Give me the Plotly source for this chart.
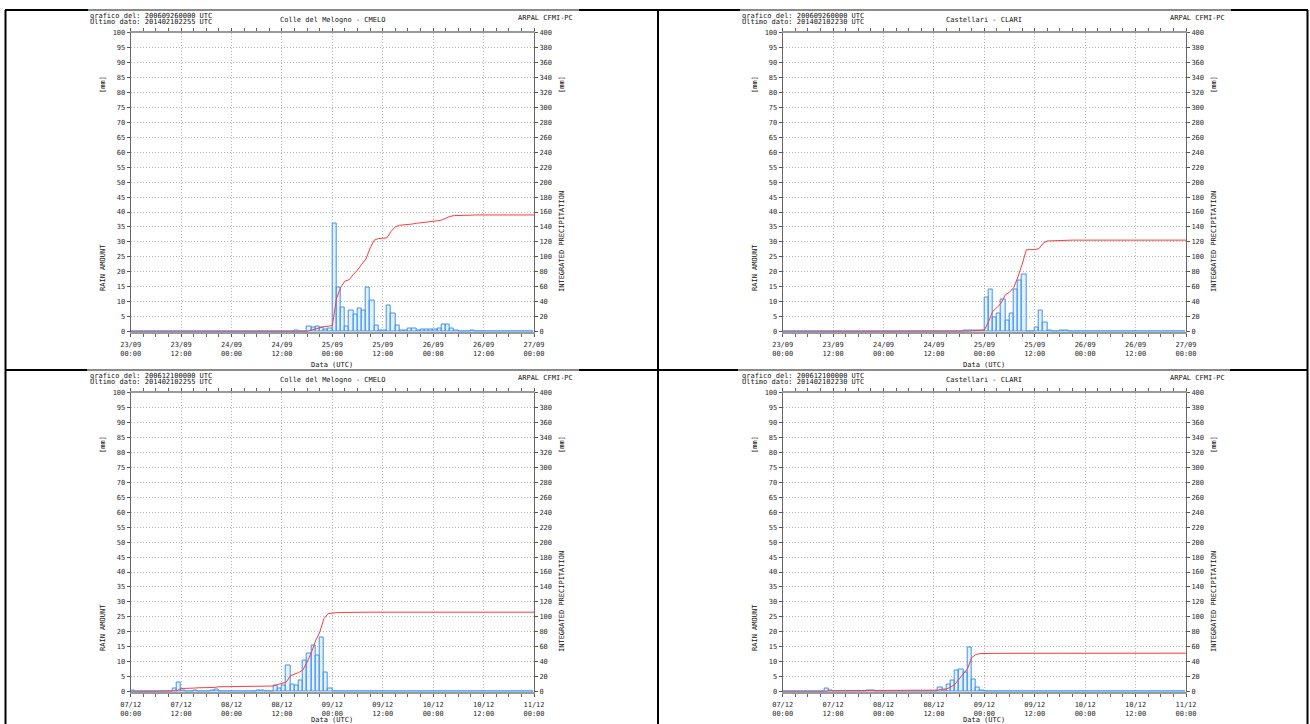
import plotly.graph_objects as go
import pandas as pd
import numpy as np

W, H = 1310, 724

# ---------------- data (hourly rain, mm) ----------------
sep_start = "2006-09-23 00:00"
dec_start = "2006-12-07 00:00"
n_hours = 96

cmelo_sep_hours = [39, 42, 43, 44, 45, 46, 47, 48, 49, 50, 51, 52, 53, 54, 55, 56, 57, 58, 59, 60,
                   61, 62, 63, 64, 65, 66, 67, 68, 69, 70, 71, 72, 73, 74, 75, 76, 77, 78, 81]
cmelo_sep_mm = [0.3, 1.9, 1.5, 1.7, 1.3, 0.6, 1.0, 36.3, 14.8, 8.2, 1.9, 7.0, 5.9, 7.8, 7.0, 14.8, 10.5, 2.0, 0.5, 0.5,
                8.8, 6.0, 2.0, 0.3, 0.3, 1.0, 1.0, 0.5, 0.8, 0.7, 0.7, 0.7, 1.0, 2.5, 2.3, 1.1, 0.4, 0.2, 0.3]

clari_sep_hours = [42, 43, 44, 45, 46, 47, 48, 49, 50, 51, 52, 53, 54, 55, 56, 57, 58, 60, 61, 62, 63, 66, 67]
clari_sep_mm = [0.2, 0.5, 0.4, 0.3, 0.3, 0.3, 11.4, 14.0, 4.8, 6.2, 10.9, 3.6, 6.2, 14.2, 17.0, 19.2, 0.2,
                1.4, 7.2, 3.0, 0.3, 0.4, 0.4]

cmelo_dec_hours = [0, 10, 11, 12, 15, 19, 20, 22, 30, 31, 34, 35, 36, 37, 38, 39, 40, 41, 42, 43, 44, 45,
                   46, 47, 48, 49, 50, 54]
cmelo_dec_mm = [0.3, 1.0, 3.0, 0.5, 0.4, 0.5, 0.9, 0.2, 0.4, 0.4, 2.0, 1.0, 2.0, 8.7, 2.3, 2.0, 3.7, 10.3,
                12.7, 15.5, 12.0, 18.0, 6.5, 1.2, 0.2, 0.2, 0.2, 0.2]

clari_dec_hours = [10, 11, 20, 21, 37, 38, 39, 40, 41, 42, 43, 44, 45, 46, 47, 95]
clari_dec_mm = [1.2, 0.3, 0.3, 0.3, 1.3, 0.3, 2.5, 3.7, 7.0, 7.5, 6.5, 14.8, 4.0, 1.3, 0.3, 0.2]

left_ticks = list(range(0, 101, 5))
right_ticks = list(range(0, 401, 20))

panels = [
    dict(start=sep_start, hours=cmelo_sep_hours, mm=cmelo_sep_mm, title="Colle del Melogno - CMELO",
         graf="grafico del: 200609260000 UTC", ult="Ultimo dato: 201402102255 UTC", dx=0, dy=0),
    dict(start=sep_start, hours=clari_sep_hours, mm=clari_sep_mm, title="Castellari - CLARI",
         graf="grafico del: 200609260000 UTC", ult="Ultimo dato: 201402102230 UTC", dx=652, dy=0),
    dict(start=dec_start, hours=cmelo_dec_hours, mm=cmelo_dec_mm, title="Colle del Melogno - CMELO",
         graf="grafico del: 200612100000 UTC", ult="Ultimo dato: 201402102255 UTC", dx=0, dy=360),
    dict(start=dec_start, hours=clari_dec_hours, mm=clari_dec_mm, title="Castellari - CLARI",
         graf="grafico del: 200612100000 UTC", ult="Ultimo dato: 201402102230 UTC", dx=652, dy=360),
]

# ---------------- figure ----------------
FONT = "DejaVu Sans Mono"
HOUR_MS = 3600 * 1000
PX0, PX1 = 130.7, 534.0      # plot x extent (pixels) of left panel
PY0, PY1 = 32.5, 331.7       # plot y extent (pixels) of top panel
GRID = dict(showgrid=True, gridcolor="#b4b4b4", griddash="1px,2px", gridwidth=1)


def px(x):
    return x / W


def py(y):
    return 1 - y / H


def nm(prefix, n):
    return prefix if n == 1 else f"{prefix}{n}"


fig = go.Figure()
annotations = []
shapes = []
layout = {}

for i, p in enumerate(panels, start=1):
    t0 = pd.Timestamp(p["start"])
    rain = np.zeros(n_hours)
    rain[p["hours"]] = p["mm"]
    hour_idx = np.arange(n_hours)
    bar_x = t0 + pd.to_timedelta(hour_idx + 0.5, unit="h")
    line_x = t0 + pd.to_timedelta(np.arange(n_hours + 1), unit="h")
    line_y = np.concatenate([[0.0], np.cumsum(rain)])

    xa, ya, ya2 = nm("x", i), nm("y", 2 * i - 1), nm("y", 2 * i)

    fig.add_trace(go.Bar(x=bar_x, y=rain, width=[HOUR_MS] * n_hours, xaxis=xa, yaxis=ya,
                         marker=dict(color="rgba(195,224,255,0.45)",
                                     line=dict(color="#3f93ee", width=1)),
                         showlegend=False, hoverinfo="x+y"))
    fig.add_trace(go.Scatter(x=line_x, y=line_y, mode="lines", xaxis=xa, yaxis=ya2,
                             line=dict(color="#ff3b3b", width=1), showlegend=False))

    dx, dy = p["dx"], p["dy"]
    xdom = [px(PX0 + dx), px(PX1 + dx)]
    ydom = [py(PY1 + dy), py(PY0 + dy)]
    t1 = t0 + pd.Timedelta(hours=n_hours)
    tickfont = dict(family=FONT, size=7, color="#2a2a2a")

    layout[nm("xaxis", i)] = dict(
        domain=xdom, anchor=ya, type="date", range=[t0, t1],
        tick0=t0, dtick=12 * HOUR_MS, tickformat="%d/%m<br>%H:%M",
        ticks="outside", ticklen=3, tickcolor="#555", tickfont=tickfont, **GRID,
        showline=True, linecolor="#9a9a9a", linewidth=2, mirror="allticks",
        minor=dict(dtick=3 * HOUR_MS, ticks="outside", ticklen=2, tickcolor="#666", showgrid=False),
        zeroline=False, fixedrange=True, ticklabelstandoff=2, automargin=False,
    )
    layout[nm("yaxis", 2 * i - 1)] = dict(
        domain=ydom, anchor=xa, range=[0, 100], tickvals=left_ticks,
        ticks="outside", ticklen=3, tickcolor="#555", tickfont=tickfont, **GRID,
        showline=True, linecolor="#666", linewidth=1, zeroline=False, fixedrange=True,
        automargin=False,
    )
    layout[nm("yaxis", 2 * i)] = dict(
        domain=ydom, anchor=xa, overlaying=ya, side="right", range=[0, 400], tickvals=right_ticks,
        ticks="outside", ticklen=3, tickcolor="#555", tickfont=tickfont,
        showgrid=False, showline=True, linecolor="#666", linewidth=1, zeroline=False, fixedrange=True,
        automargin=False,
    )

    af = dict(family=FONT, size=7, color="#111")
    common = dict(xref="paper", yref="paper", showarrow=False, font=af)
    data_y = min(365 + dy, 719.5)
    annotations += [
        dict(x=px(88 + dx), y=py(15.5 + dy), text=p["graf"], xanchor="left", yanchor="middle", **common),
        dict(x=px(88 + dx), y=py(21.5 + dy), text=p["ult"], xanchor="left", yanchor="middle", **common),
        dict(x=px((PX0 + PX1) / 2 + dx), y=py(20 + dy), text=p["title"], xanchor="center", yanchor="middle", **common),
        dict(x=px(575 + dx), y=py(18 + dy), text="ARPAL CFMI-PC", xanchor="right", yanchor="middle", **common),
        dict(x=px(103 + dx), y=py(85 + dy), text="[mm]", textangle=-90, xanchor="center", yanchor="middle", **common),
        dict(x=px(103 + dx), y=py(268 + dy), text="RAIN AMOUNT", textangle=-90, xanchor="center", yanchor="middle", **common),
        dict(x=px(562 + dx), y=py(85 + dy), text="[mm]", textangle=-90, xanchor="center", yanchor="middle", **common),
        dict(x=px(562 + dx), y=py(242 + dy), text="INTEGRATED PRECIPITATION", textangle=-90, xanchor="center", yanchor="middle", **common),
        dict(x=px((PX0 + PX1) / 2 + dx), y=py(data_y), text="Data (UTC)", xanchor="center", yanchor="middle", **common),
    ]

# panel borders
def hline(x0, x1, y, color="black", w=2):
    return dict(type="line", xref="paper", yref="paper", x0=px(x0), x1=px(x1), y0=py(y), y1=py(y),
                line=dict(color=color, width=w), layer="above")


def vline(x, y0, y1, color="black", w=2):
    return dict(type="line", xref="paper", yref="paper", x0=px(x), x1=px(x), y0=py(y0), y1=py(y1),
                line=dict(color=color, width=w), layer="above")


shapes += [
    hline(5, 1308, 10), hline(5, 1308, 370),
    vline(5.5, 10, 724), vline(658, 10, 724), vline(1307.5, 10, 724),
    hline(88, 579, 10, "#8a8a8a"), hline(740, 1231, 10, "#8a8a8a"),
    hline(87, 579, 370, "#8a8a8a"), hline(738, 1230, 370, "#8a8a8a"),
]

fig.update_layout(
    width=W, height=H, margin=dict(l=0, r=0, t=0, b=0, pad=0, autoexpand=False),
    paper_bgcolor="white", plot_bgcolor="white",
    showlegend=False, bargap=0, barmode="overlay",
    annotations=annotations, shapes=shapes,
    **layout,
)

fig.write_html("out.html", config={"responsive": False, "displayModeBar": False},
               post_script="document.body.style.margin='0px';document.body.style.overflow='hidden';")
